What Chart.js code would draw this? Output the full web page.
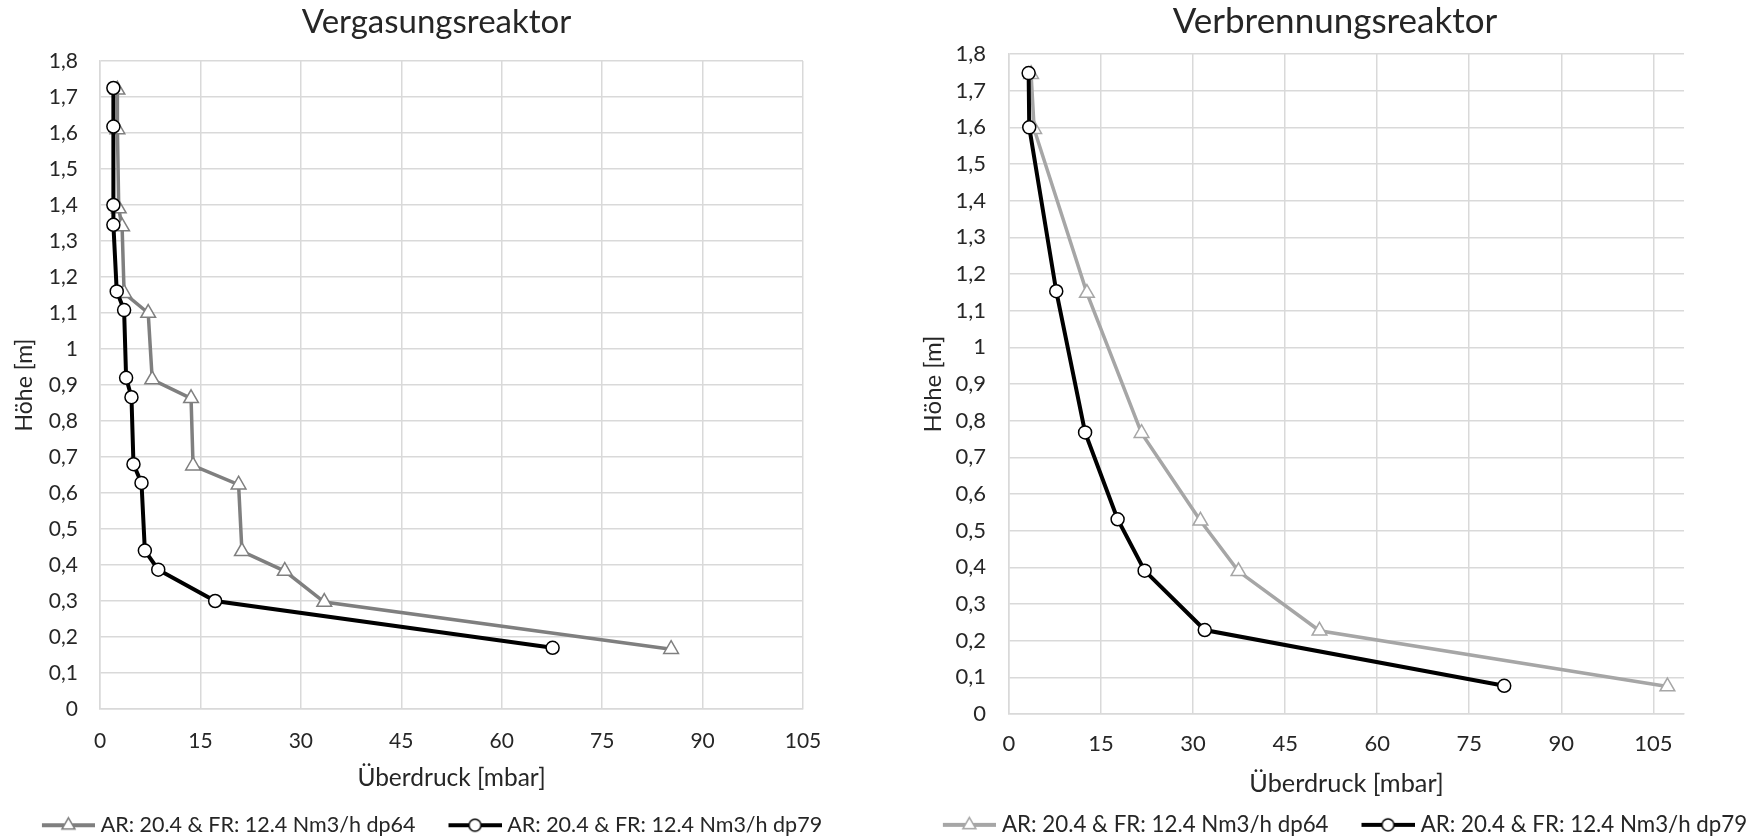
<!DOCTYPE html>
<html>
<head>
<meta charset="utf-8">
<script src="https://cdn.jsdelivr.net/npm/chart.js@4.4.1/dist/chart.umd.min.js"></script>
<style>
  html, body { margin: 0; padding: 0; background: #fff; overflow: hidden; width: 1750px; height: 839px; }
  .panel { position: absolute; top: 0; width: 875px; height: 846px; }
</style>
</head>
<body>
<div class="panel" style="left:0"><canvas id="gas" width="875" height="846"></canvas></div>
<div class="panel" style="left:875px"><canvas id="burn" width="875" height="846"></canvas></div>
<script>
// Druckprofile über der Reaktorhöhe: Überdruck [mbar] (x) gegen Höhe [m] (y)
const seriesNames = ['AR: 20.4 & FR: 12.4 Nm3/h dp64', 'AR: 20.4 & FR: 12.4 Nm3/h dp79'];

// Vergasungsreaktor
const gasDp64Druck = [2.6, 2.6, 2.8, 3.3, 3.6, 7.2, 7.8, 13.6, 13.9, 20.7, 21.2, 27.6, 33.5, 85.3];
const gasDp64Hoehe = [1.72, 1.61, 1.39, 1.34, 1.155, 1.10, 0.915, 0.863, 0.676, 0.623, 0.438, 0.383, 0.297, 0.166];
const gasDp79Druck = [2.0, 2.0, 2.0, 2.0, 2.5, 3.6, 3.9, 4.7, 5.0, 6.2, 6.7, 8.7, 17.2, 67.6];
const gasDp79Hoehe = [1.725, 1.618, 1.40, 1.345, 1.16, 1.108, 0.92, 0.866, 0.68, 0.628, 0.44, 0.387, 0.30, 0.17];

// Verbrennungsreaktor
const burnDp64Druck = [3.6, 4.1, 12.7, 21.6, 31.2, 37.4, 50.6, 107.3];
const burnDp64Hoehe = [1.745, 1.595, 1.148, 0.766, 0.527, 0.389, 0.227, 0.075];
const burnDp79Druck = [3.2, 3.3, 7.7, 12.4, 17.7, 22.1, 31.9, 80.7];
const burnDp79Hoehe = [1.748, 1.60, 1.153, 0.768, 0.531, 0.391, 0.229, 0.077];

// Achsenbeschriftungen
const yTickValues = [0, 0.1, 0.2, 0.3, 0.4, 0.5, 0.6, 0.7, 0.8, 0.9, 1, 1.1, 1.2, 1.3, 1.4, 1.5, 1.6, 1.7, 1.8];
const yTickLabels = ['0', '0,1', '0,2', '0,3', '0,4', '0,5', '0,6', '0,7', '0,8', '0,9', '1',
                     '1,1', '1,2', '1,3', '1,4', '1,5', '1,6', '1,7', '1,8'];
const xTickValues = [0, 15, 30, 45, 60, 75, 90, 105];
const xTickLabels = ['0', '15', '30', '45', '60', '75', '90', '105'];

const FONT = "Lato, 'Noto Sans', sans-serif";
const TXT = '#262626';
const GRID = '#d9d9d9';

function points(xs, ys) {
  return xs.map((x, i) => ({ x: x, y: ys[i] }));
}

// Legend symbol in the spreadsheet style: a line segment with the marker on it
function legendIcon(color, lineWidth, style) {
  const c = document.createElement('canvas');
  c.width = 81; c.height = 20;
  const g = c.getContext('2d');
  const y = 10, x0 = 28, x1 = 81, cx = (x0 + x1) / 2;
  g.strokeStyle = color;
  g.lineWidth = lineWidth;
  g.beginPath(); g.moveTo(x0, y); g.lineTo(x1, y); g.stroke();
  g.fillStyle = '#fff';
  g.lineWidth = 1.5;
  g.beginPath();
  if (style === 'triangle') {
    const r = 7.5;
    g.moveTo(cx, y - r);
    g.lineTo(cx + r * Math.sin(2 * Math.PI / 3), y + r / 2);
    g.lineTo(cx - r * Math.sin(2 * Math.PI / 3), y + r / 2);
    g.closePath();
  } else {
    g.arc(cx, y, 6, 0, 2 * Math.PI);
  }
  g.fill(); g.stroke();
  return c;
}

// Shifts the full-width title and legend boxes sideways after layout
const boxShift = {
  id: 'boxShift',
  afterLayout(chart, args, opts) {
    const t = chart.titleBlock, l = chart.legend;
    if (t && opts.title) { t.left += opts.title; t.right += opts.title; }
    if (l && opts.legend) { l.left += opts.legend; l.right += opts.legend; }
  }
};

function makeChart(id, cfg) {
  const icons = [legendIcon(cfg.gray, 4, 'triangle'), legendIcon('#000', 4, 'circle')];
  return new Chart(document.getElementById(id), {
    type: 'scatter',
    data: {
      datasets: [
        {
          label: seriesNames[0],
          data: points(cfg.x64, cfg.y64),
          showLine: true,
          borderColor: cfg.gray,
          borderWidth: 3.5,
          pointStyle: 'triangle',
          pointRadius: 8.5,
          pointBorderWidth: 1.5,
          pointBorderColor: cfg.gray,
          pointBackgroundColor: '#fff',
          order: 1
        },
        {
          label: seriesNames[1],
          data: points(cfg.x79, cfg.y79),
          showLine: true,
          borderColor: '#000',
          borderWidth: 4,
          pointStyle: 'circle',
          pointRadius: 6.5,
          pointBorderWidth: 1.5,
          pointBorderColor: '#000',
          pointBackgroundColor: '#fff',
          order: 0
        }
      ]
    },
    options: {
      responsive: false,
      animation: false,
      events: [],
      layout: { padding: 0 },
      scales: {
        x: {
          type: 'linear',
          min: 0,
          max: cfg.xMax,
          afterBuildTicks: s => { s.ticks = xTickValues.map(v => ({ value: v })); },
          afterFit: s => { s.height = cfg.xHeight; },
          grid: { color: GRID, lineWidth: 1.5, drawTicks: false },
          border: { color: GRID, width: 1.5 },
          ticks: {
            padding: cfg.xTickPad, color: TXT, maxRotation: 0,
            font: { family: FONT, size: cfg.tickSize },
            callback: (v, i) => xTickLabels[i]
          },
          title: {
            display: true, text: 'Überdruck [mbar]', color: TXT,
            font: { family: FONT, size: cfg.xTitleSize },
            padding: { top: 0, bottom: cfg.xTitlePad }
          }
        },
        y: {
          type: 'linear',
          min: 0,
          max: 1.8,
          afterBuildTicks: s => { s.ticks = yTickValues.map(v => ({ value: v })); },
          afterFit: s => { s.width = cfg.yWidth; },
          grid: { color: GRID, lineWidth: 1.5, drawTicks: false },
          border: { color: GRID, width: 1.5 },
          ticks: {
            padding: cfg.yTickPad, color: TXT,
            font: { family: FONT, size: cfg.tickSize },
            callback: (v, i) => yTickLabels[i]
          },
          title: {
            display: true, text: 'Höhe [m]', color: TXT,
            font: { family: FONT, size: cfg.yTitleSize },
            padding: { top: cfg.yTitlePad, bottom: 0 }
          }
        },
        spacer: {
          type: 'linear',
          position: 'right',
          display: true,
          afterFit: s => { s.width = cfg.rightWidth; },
          grid: { display: false, drawTicks: false },
          border: { display: false },
          ticks: { display: false }
        }
      },
      plugins: {
        title: {
          display: true,
          text: cfg.title,
          color: TXT,
          font: { family: FONT, size: cfg.titleSize, weight: 'normal' },
          padding: { top: cfg.titlePadTop, bottom: cfg.titlePadBottom }
        },
        legend: {
          position: 'bottom',
          labels: {
            usePointStyle: true,
            pointStyleWidth: 71,
            padding: 10,
            color: TXT,
            font: { family: FONT, size: cfg.legendSize },
            generateLabels: chart => chart.data.datasets.map((ds, i) => ({
              text: ds.label,
              datasetIndex: i,
              pointStyle: icons[i],
              fontColor: TXT,
              fillStyle: '#fff',
              strokeStyle: ds.borderColor,
              lineWidth: 0,
              hidden: false
            }))
          }
        },
        tooltip: { enabled: false },
        boxShift: { title: cfg.titleShift, legend: cfg.legendShift }
      }
    },
    plugins: [boxShift]
  });
}

makeChart('gas', {
  title: 'Vergasungsreaktor',
  gray: '#7f7f7f',
  x64: gasDp64Druck, y64: gasDp64Hoehe,
  x79: gasDp79Druck, y79: gasDp79Hoehe,
  xMax: 105,
  titleSize: 33, tickSize: 21, xTitleSize: 24.5, yTitleSize: 23, legendSize: 21.5,
  yWidth: 100, rightWidth: 72,
  xHeight: 95.5, xTickPad: 19.4, xTitlePad: 11.8,
  yTickPad: 22, yTitlePad: 11.2,
  titlePadTop: 2.2, titlePadBottom: 19.2,
  titleShift: -1, legendShift: -17
});

makeChart('burn', {
  title: 'Verbrennungsreaktor',
  gray: '#a6a6a6',
  x64: burnDp64Druck, y64: burnDp64Hoehe,
  x79: burnDp79Druck, y79: burnDp79Hoehe,
  xMax: 110,
  titleSize: 35, tickSize: 22, xTitleSize: 25.3, yTitleSize: 24, legendSize: 22.3,
  yWidth: 134, rightWidth: 66,
  xHeight: 89.7, xTickPad: 16.8, xTitlePad: 4.5,
  yTickPad: 23, yTitlePad: 43.6,
  titlePadTop: 1, titlePadBottom: 11,
  titleShift: 22.5, legendShift: 21
});
</script>
</body>
</html>
